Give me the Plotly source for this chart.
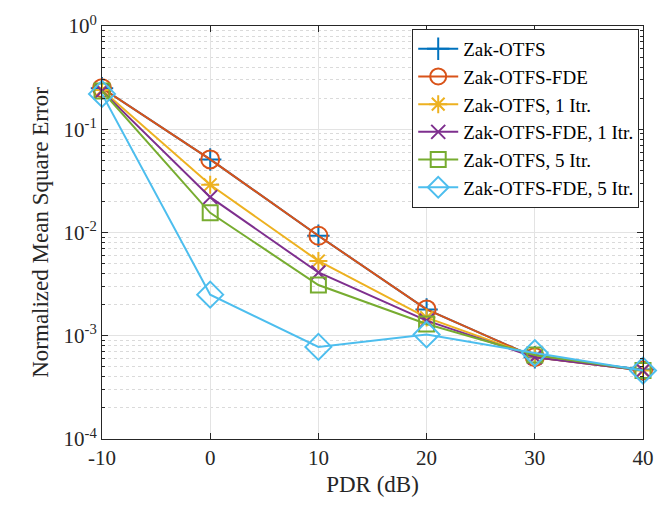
import plotly.graph_objects as go

pdr = [-10, 0, 10, 20, 30, 40]
names = ["Zak-OTFS", "Zak-OTFS-FDE", "Zak-OTFS, 1 Itr.", "Zak-OTFS-FDE, 1 Itr.",
         "Zak-OTFS, 5 Itr.", "Zak-OTFS-FDE, 5 Itr."]
zak = [0.25, 0.051, 0.0093, 0.0018, 0.00062, 0.00047]
zak_fde = [0.25, 0.051, 0.0093, 0.0018, 0.00062, 0.00046]
zak_1 = [0.24, 0.029, 0.0053, 0.0015, 0.00063, 0.00046]
zak_fde_1 = [0.235, 0.022, 0.0041, 0.0014, 0.00062, 0.00046]
zak_5 = [0.235, 0.0155, 0.0031, 0.0013, 0.00065, 0.00046]
zak_fde_5 = [0.22, 0.0025, 0.00078, 0.00103, 0.00068, 0.00046]
series = [zak, zak_fde, zak_1, zak_fde_1, zak_5, zak_fde_5]
colors = ["#0072BD", "#D95319", "#EDB120", "#7E2F8E", "#77AC30", "#4DBEEE"]
symbols = ["cross-thin", "circle-open", "asterisk", "x-thin", "square-open", "diamond-open"]
sizes = [16, 18, 15, 14, 15, 20]

y_ticks = [1e-4, 1e-3, 1e-2, 1e-1, 1e0]
y_text = ["10<sup>-4</sup>", "10<sup>-3</sup>", "10<sup>-2</sup>", "10<sup>-1</sup>", "10<sup>0</sup>"]
x_ticks = [-10, 0, 10, 20, 30, 40]

fig = go.Figure()
for nm, ys, c, s, sz in zip(names, series, colors, symbols, sizes):
    fig.add_trace(go.Scatter(
        x=pdr, y=ys, name=nm, mode="lines+markers", cliponaxis=False,
        line=dict(color=c, width=2),
        marker=dict(symbol=s, size=sz, color=c, line=dict(color=c, width=2)),
    ))

font = "Liberation Serif"
axis_common = dict(
    showline=True, linecolor="#262626", linewidth=1, mirror="ticks",
    ticks="inside", tickcolor="#262626", tickfont=dict(family=font, size=21, color="#262626"),
    showgrid=True, gridcolor="#e3e3e3", gridwidth=1, zeroline=False,
)
fig.update_xaxes(
    range=[-10, 40], tickvals=x_ticks, ticktext=[str(v) for v in x_ticks], ticklen=6,
    title=dict(text="PDR (dB)", font=dict(family=font, size=23, color="#262626"), standoff=6),
    **axis_common,
)
fig.update_yaxes(
    type="log", range=[-4, 0], tickvals=y_ticks, ticktext=y_text, ticklen=6,
    title=dict(text="Normalized Mean Square Error", font=dict(family=font, size=23, color="#262626"), standoff=8),
    minor=dict(dtick="D1", showgrid=True, gridcolor="#dadada", griddash="dot", ticks="inside",
               ticklen=3, tickcolor="#262626"),
    **axis_common,
)
fig.update_layout(
    width=669, height=507,
    margin=dict(l=102, r=26, t=21, b=68),
    plot_bgcolor="white", paper_bgcolor="white",
    font=dict(family=font, color="#262626"),
    legend=dict(x=0.993, y=0.993, xanchor="right", yanchor="top",
                bgcolor="white", bordercolor="#262626", borderwidth=1,
                font=dict(family=font, size=19, color="black"),
                tracegroupgap=0, itemwidth=40),
    showlegend=True,
)
fig.write_html("out.html")
